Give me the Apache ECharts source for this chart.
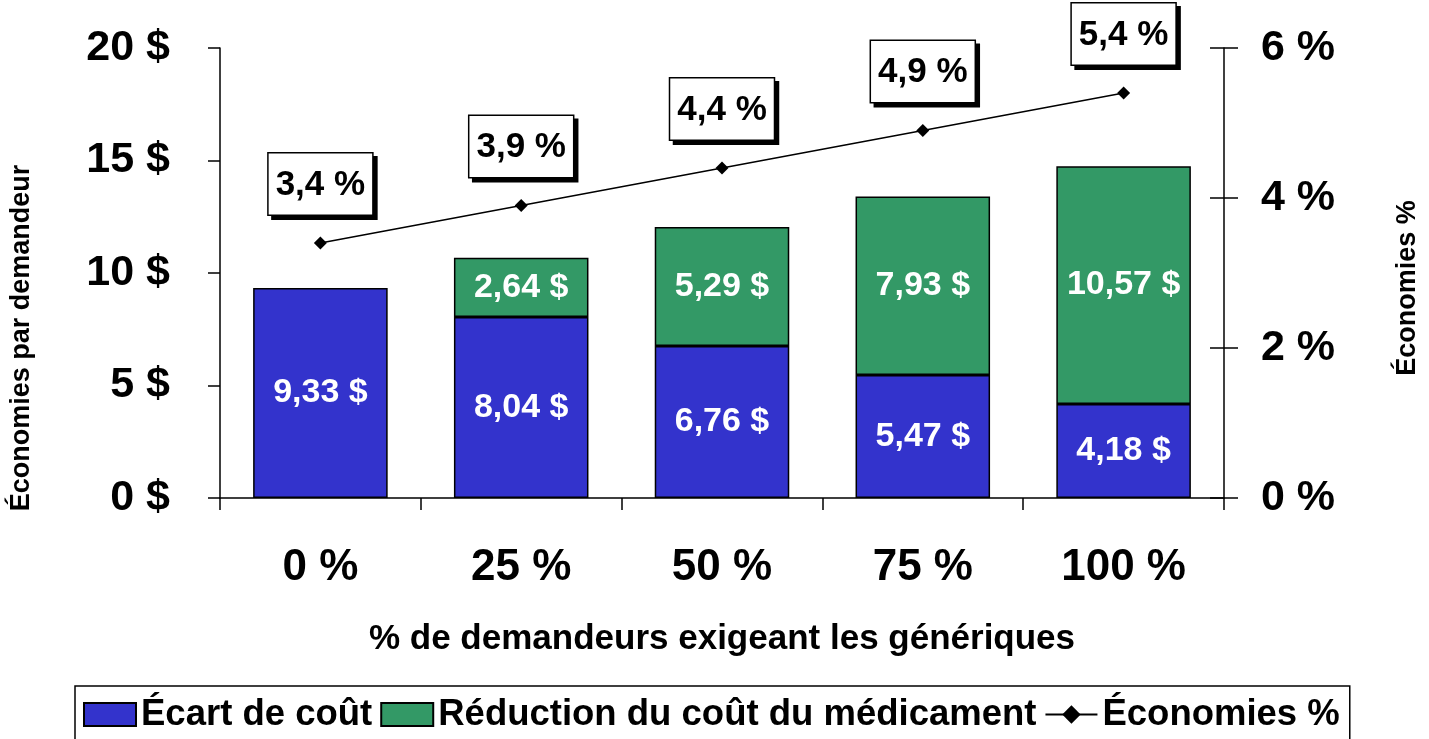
<!DOCTYPE html>
<html><head><meta charset="utf-8">
<script src="https://cdn.jsdelivr.net/npm/echarts@6/dist/echarts.min.js"></script>
<style>html,body{margin:0;padding:0;background:#fff;overflow:hidden}#c{width:1429px;height:739px}</style>
</head><body><div id="c"></div>
<script>
const categories = ['0 %', '25 %', '50 %', '75 %', '100 %'];
const ecartCout = [9.33, 8.04, 6.76, 5.47, 4.18];
const reductionCout = [null, 2.64, 5.29, 7.93, 10.57];
const economiesPct = [3.4, 3.9, 4.4, 4.9, 5.4];
const leftTicks = [0, 5, 10, 15, 20];
const rightTicks = [0, 2, 4, 6];

const FONT = 'Arial, "Liberation Sans", Helvetica, sans-serif';
const fmt = v => v.toFixed(2).replace('.', ',') + ' $';

const chart = echarts.init(document.getElementById('c'), null, {renderer: 'canvas'});
chart.setOption({
  backgroundColor: '#fff',
  animation: false,
  grid: {left: 215, right: 191, top: 48, bottom: 241, containLabel: false},
  legend: {
    left: 75, top: 686, padding: [10, 10, 10, 8], itemGap: 8,
    itemWidth: 52, itemHeight: 23,
    borderColor: '#000', borderWidth: 1.5,
    textStyle: {fontFamily: FONT, fontWeight: 'bold', fontSize: 36.5, color: '#000'},
    data: [
      {name: 'Écart de coût', icon: 'rect'},
      {name: 'Réduction du coût du médicament', icon: 'rect'},
      {name: 'Économies %'}
    ]
  },
  xAxis: {
    type: 'category', data: categories,
    axisLine: {lineStyle: {color: '#000', width: 1.5}},
    axisTick: {show: true, length: 12, lineStyle: {color: '#000', width: 1.5}},
    axisLabel: {fontFamily: FONT, fontWeight: 'bold', fontSize: 44, color: '#000', margin: 48},
    name: '% de demandeurs exigeant les génériques',
    nameLocation: 'middle', nameGap: 124,
    nameTextStyle: {fontFamily: FONT, fontWeight: 'bold', fontSize: 35, color: '#000'}
  },
  yAxis: [
    {
      type: 'value', min: leftTicks[0], max: leftTicks[leftTicks.length - 1], interval: 5,
      position: 'left',
      axisLine: {show: true, lineStyle: {color: '#000', width: 1.5}},
      axisTick: {show: true, length: 12, lineStyle: {color: '#000', width: 1.5}},
      splitLine: {show: false},
      axisLabel: {fontFamily: FONT, fontWeight: 'bold', fontSize: 43, color: '#000', margin: 50,
                  formatter: v => v + ' $'},
      name: 'Économies par demandeur', nameLocation: 'middle', nameGap: 185, nameRotate: 90,
      nameTextStyle: {fontFamily: FONT, fontWeight: 'bold', fontSize: 27, color: '#000', padding: [0, 130, 0, 0]}
    },
    {
      type: 'value', min: rightTicks[0], max: rightTicks[rightTicks.length - 1], interval: 2,
      position: 'right',
      axisLine: {show: true, lineStyle: {color: '#000', width: 1.5}},
      axisTick: {show: true, length: 14, lineStyle: {color: '#000', width: 1.5}},
      splitLine: {show: false},
      axisLabel: {fontFamily: FONT, fontWeight: 'bold', fontSize: 43, color: '#000', margin: 37,
                  formatter: v => v + ' %'},
      name: 'Économies %', nameLocation: 'middle', nameGap: 170, nameRotate: 90,
      nameTextStyle: {fontFamily: FONT, fontWeight: 'bold', fontSize: 27, color: '#000', padding: [0, 30, 0, 0]}
    },
    {
      type: 'value', min: rightTicks[0], max: rightTicks[rightTicks.length - 1], interval: 2,
      position: 'right',
      axisLine: {show: false},
      axisTick: {show: true, inside: true, length: 14, lineStyle: {color: '#000', width: 1.5}},
      splitLine: {show: false},
      axisLabel: {show: false}
    }
  ],
  series: [
    {
      name: 'Écart de coût', type: 'bar', stack: 's', data: ecartCout, barCategoryGap: '33%',
      itemStyle: {color: '#3333CC', borderColor: '#000', borderWidth: 1.5},
      label: {show: true, position: 'inside', fontFamily: FONT, fontWeight: 'bold', fontSize: 34, color: '#fff',
              formatter: p => fmt(p.value)}
    },
    {
      name: 'Réduction du coût du médicament', type: 'bar', stack: 's', data: reductionCout,
      itemStyle: {color: '#339966', borderColor: '#000', borderWidth: 1.5},
      label: {show: true, position: 'inside', fontFamily: FONT, fontWeight: 'bold', fontSize: 34, color: '#fff',
              formatter: p => p.value == null ? '' : fmt(p.value)}
    },
    {
      name: 'Économies %', type: 'line', yAxisIndex: 1, data: economiesPct,
      symbol: 'diamond', symbolSize: 13,
      lineStyle: {color: '#000', width: 1.5},
      itemStyle: {color: '#000'},
      label: {
        show: true, position: 'top', distance: 22,
        fontFamily: FONT, fontWeight: 'bold', fontSize: 35, color: '#000',
        backgroundColor: '#fff', borderColor: '#000', borderWidth: 1.5,
        padding: [14, 7, 12, 7],
        shadowColor: '#000', shadowOffsetX: 4, shadowOffsetY: 4, shadowBlur: 0,
        formatter: p => String(p.value).replace('.', ',') + ' %'
      }
    }
  ]
});
</script></body></html>
